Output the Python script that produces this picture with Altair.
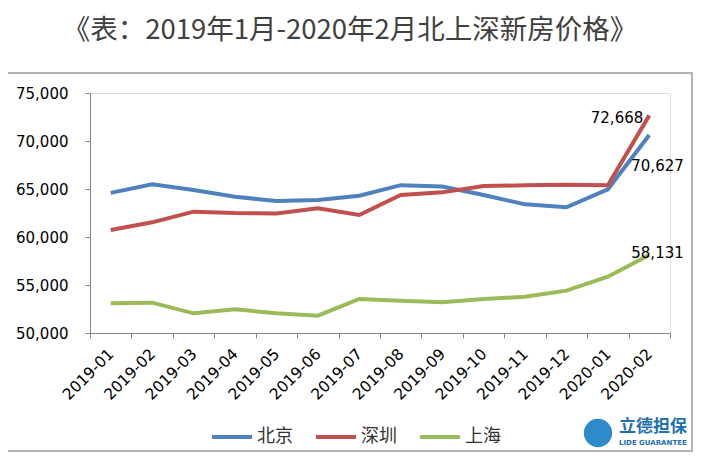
import altair as alt
import pandas as pd

months = ["2019-01", "2019-02", "2019-03", "2019-04", "2019-05", "2019-06", "2019-07",
          "2019-08", "2019-09", "2019-10", "2019-11", "2019-12", "2020-01", "2020-02"]
beijing = [64600, 65480, 64900, 64200, 63750, 63850, 64300, 65400, 65250, 64380, 63400, 63100, 64970, 70627]
shenzhen = [60730, 61530, 62640, 62500, 62460, 62990, 62290, 64380, 64650, 65310, 65380, 65450, 65400, 72668]
shanghai = [53090, 53160, 52050, 52470, 52050, 51800, 53540, 53370, 53200, 53540, 53780, 54410, 55870, 58131]
series_names = ["北京", "深圳", "上海"]
series_colors = ["#4F81BD", "#C0504D", "#9BBB59"]
title_text = "《表：2019年1月-2020年2月北上深新房价格》"

rows = []
for name, vals in zip(series_names, [beijing, shenzhen, shanghai]):
    for m, v in zip(months, vals):
        rows.append({"month": m, "city": name, "price": v})
df = pd.DataFrame(rows)

W, H = 580, 240
FONT = "DejaVu Sans"
CJK = "Noto Sans CJK SC"

x_enc = alt.X("month:O", title=None, sort=months, bandPosition=0.5,
              scale=alt.Scale(type="band", paddingInner=0, paddingOuter=0),
              axis=alt.Axis(labelAngle=-45, labelAlign="right", labelBaseline="middle",
                            tickBand="extent", tickSize=5, labelPadding=13,
                            labelFont=FONT, labelFontSize=15.5, labelColor="#000",
                            domainColor="#888", tickColor="#888", grid=False))
y_enc = alt.Y("price:Q", title=None,
              scale=alt.Scale(domain=[50000, 75000], nice=False),
              axis=alt.Axis(values=[50000, 55000, 60000, 65000, 70000, 75000], format=",d",
                            tickSize=5, labelPadding=17, labelFont=FONT, labelFontSize=15,
                            labelColor="#000", domainColor="#888", tickColor="#888", grid=False))
color_enc = alt.Color("city:N", sort=series_names,
                      scale=alt.Scale(domain=series_names, range=series_colors),
                      legend=alt.Legend(title=None, orient="none", direction="horizontal",
                                        legendX=120, legendY=322, symbolType="stroke",
                                        symbolSize=1600, symbolStrokeWidth=4,
                                        labelFont=CJK, labelFontSize=18, labelColor="#333",
                                        columnPadding=15, labelOffset=3))

lines = alt.Chart(df).mark_line(strokeWidth=4).encode(x=x_enc, y=y_enc, color=color_enc)

last = df[df["month"] == months[-1]]
lab_sz = alt.Chart(last[last["city"] == "深圳"]).mark_text(
    align="right", baseline="middle", dx=-6, dy=3, font=FONT, fontSize=15, color="#000"
).encode(x=x_enc, y=y_enc, text=alt.Text("price:Q", format=",d"))
lab_bj = alt.Chart(last[last["city"] == "北京"]).mark_text(
    align="left", baseline="middle", dx=-18, dy=31, font=FONT, fontSize=15, color="#000"
).encode(x=x_enc, y=y_enc, text=alt.Text("price:Q", format=",d"))
lab_sh = alt.Chart(last[last["city"] == "上海"]).mark_text(
    align="left", baseline="middle", dx=-18, dy=-2, font=FONT, fontSize=15, color="#000"
).encode(x=x_enc, y=y_enc, text=alt.Text("price:Q", format=",d"))

frame = alt.Chart(pd.DataFrame({"a": [0]})).mark_rect(
    fill=None, stroke="#999", strokeWidth=1.5
).encode(x=alt.value(-88), x2=alt.value(602), y=alt.value(-20), y2=alt.value(358))

logo_c = alt.Chart(pd.DataFrame({"a": [0]})).mark_point(
    shape="circle", filled=True, size=800, color="#2E8BC9", opacity=1
).encode(x=alt.value(508), y=alt.value(340))
logo_t = alt.Chart(pd.DataFrame({"t": ["立德担保"]})).mark_text(
    align="left", baseline="middle", font=CJK, fontSize=17, color="#1F6FB5", fontWeight="bold"
).encode(x=alt.value(529), y=alt.value(334), text="t:N")
logo_s = alt.Chart(pd.DataFrame({"t": ["LIDE GUARANTEE"]})).mark_text(
    align="left", baseline="middle", font=FONT, fontSize=7, color="#1F6FB5", fontWeight="bold"
).encode(x=alt.value(529), y=alt.value(350), text="t:N")

chart = alt.layer(frame, lines, lab_sz, lab_bj, lab_sh, logo_c, logo_t, logo_s).properties(
    width=W, height=H,
    title=alt.TitleParams(title_text, font=CJK, fontSize=27.5, fontWeight="normal",
                          color="#404040", anchor="middle", dx=-30, offset=28),
    autosize=alt.AutoSizeParams(type="none"),
    padding={"left": 82, "top": 85, "right": 23, "bottom": 119},
).configure_view(stroke=None).configure(background="white")

chart.save("out.html", embed_options={"renderer": "svg", "actions": False})
